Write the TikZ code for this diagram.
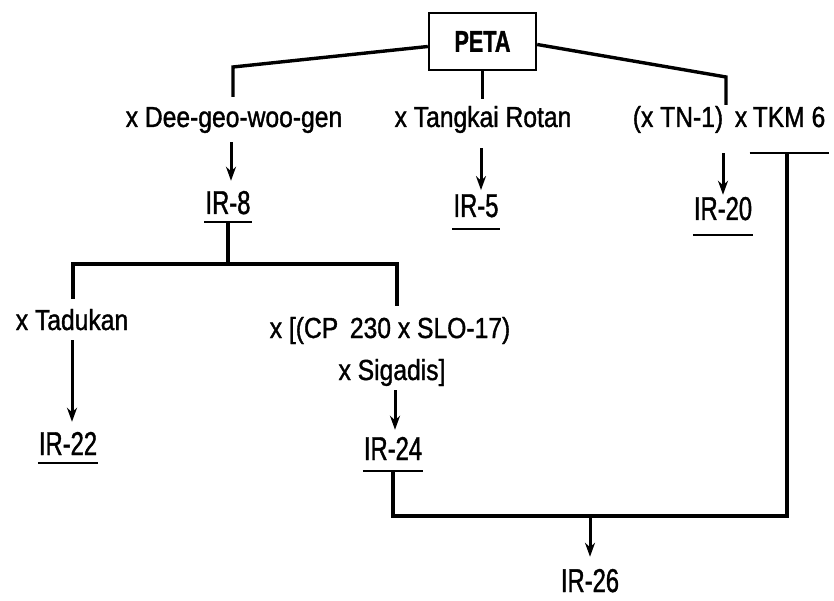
\documentclass[tikz,border=0pt]{standalone}
\usepackage{fontspec}
\setmainfont{Liberation Sans}
\newfontfamily\lblfont[FakeStretch=0.85,FakeBold=1.2]{Liberation Sans}
\newfontfamily\irfont[FakeStretch=0.72,FakeBold=1.2]{Liberation Sans}
\usetikzlibrary{arrows.meta,calc}
\begin{document}
\begin{tikzpicture}[x=1pt,y=-1pt,
  wire/.style={line width=3.4pt,line join=miter},
  arr/.style={line width=3pt,-{Stealth[length=14pt,width=10pt]}},
  lbl/.style={font=\lblfont\fontsize{29}{34}\selectfont,inner sep=0pt,anchor=base},
  ir/.style={font=\irfont\fontsize{33}{38}\selectfont,inner sep=0pt,anchor=base},
  ul/.style={line width=2.2pt},
  petabox/.style={draw,line width=2.4pt,minimum width=107pt,minimum height=57pt,inner sep=0pt,font=\irfont\bfseries\fontsize{30}{34}\selectfont}]
\useasboundingbox (0,0) rectangle (834,601);
% nodes
\node[petabox] (peta) at (482.5,41.5) {PETA};
\node[lbl] (dee) at (234,127) {x Dee-geo-woo-gen};
\node[lbl] (tang) at (483,127) {x Tangkai Rotan};
\node[lbl] (tn) at (690,127) {(x TN-1)\, x};
\node[lbl] (tkm) at (789,127) {TKM 6};
\node[ir] (ir8) at (228,214) {IR-8};
\node[ir] (ir5) at (476,217) {IR-5};
\node[ir] (ir20) at (723,220) {IR-20};
\node[lbl] (tad) at (72,330) {x Tadukan};
\node[lbl] (cpa) at (390,338) {x [(CP\, 230 x SLO-17)};
\node[lbl] (cpb) at (392,380) {x Sigadis]};
\node[ir] (ir22) at (68,455) {IR-22};
\node[ir] (ir24) at (393,460) {IR-24};
\node[ir] (ir26) at (590,592) {IR-26};
% coordinates
\coordinate (c1) at (233,67);
\coordinate (c3) at (726,77);
\coordinate (ir8ul) at ($(ir8.base)+(0,8)$);
\coordinate (ir24ul) at ($(ir24.base)+(0,11)$);
\coordinate (tkmul) at ($(tkm.base)+(-2,26)$);
\coordinate (j1) at (ir8ul |- 0,264);
\coordinate (lt) at (73,264);
\coordinate (rt) at (397,264);
\coordinate (c5) at (tkmul |- 0,516);
\coordinate (c6) at (ir24ul |- 0,516);
% underlines
\draw[ul] ($(ir8.base west)+(-1,8)$) -- ($(ir8.base east)+(1,8)$);
\draw[ul] ($(ir5.base west)+(-1,12)$) -- ($(ir5.base east)+(1,12)$);
\draw[ul] ($(ir20.base west)+(-1,15)$) -- ($(ir20.base east)+(1,15)$);
\draw[ul] ($(ir22.base west)+(-1,8)$) -- ($(ir22.base east)+(1,8)$);
\draw[ul] ($(ir24.base west)+(-1,11)$) -- ($(ir24.base east)+(1,11)$);
\draw[ul] ($(tkm.base west)+(-3,26)$) -- ($(tkm.base east)+(3,26)$);
% PETA branches
\draw[wire,shorten >=10pt] ($(peta.west)+(0,5)$) -- (c1) -- (c1 |- dee.north);
\draw[wire,shorten >=7pt] (peta.south) -- (peta.south |- tang.north);
\draw[wire,shorten >=1pt] ($(peta.east)+(0,3)$) -- (c3) -- (c3 |- tn.north);
% arrows to first progeny
\draw[arr,shorten >=10pt] ($(dee.south)+(-3,9)$) -- ($(dee.south |- ir8.north)+(-3,0)$);
\draw[arr,shorten >=4pt] ($(tang.south)+(-2,15)$) -- ($(tang.south |- ir5.north)+(-2,0)$);
\draw[arr,shorten >=2pt] ($(ir20.north |- tn.south)+(0,20)$) -- (ir20.north);
% IR-8 tree
\draw[wire] (ir8ul) -- (j1);
\draw[wire,shorten >=10pt] (rt) -- (lt) -- (lt |- tad.north);
\draw[wire,shorten >=11pt] (lt) -- (rt) -- (rt |- cpa.north);
\draw[arr,shorten >=10pt] ($(tad.south)+(0,10)$) -- (tad.south |- ir22.north);
\draw[arr,shorten >=7pt] ($(cpb.south)+(3,4)$) -- ($(cpb.south |- ir24.north)+(3,0)$);
% IR-26 cross
\draw[wire] (tkmul) -- (c5) -- (c6) -- (ir24ul);
\draw[arr,shorten >=12pt] (ir26.north |- c5) -- (ir26.north);
\end{tikzpicture}
\end{document}
